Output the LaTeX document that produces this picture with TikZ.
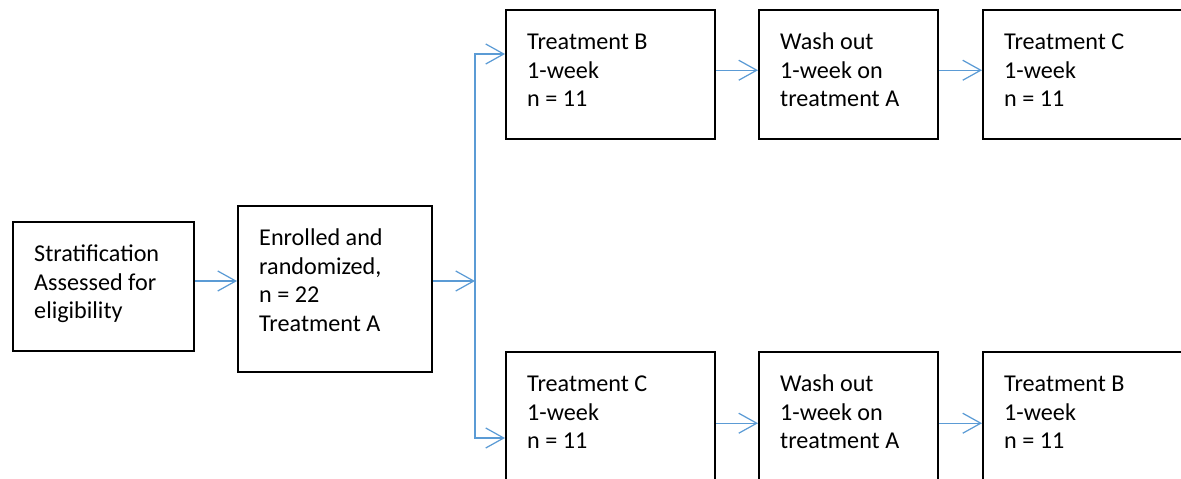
\documentclass[tikz,border=0pt]{standalone}
\usepackage{fontspec}
\setmainfont{Carlito}
\usetikzlibrary{arrows.meta,calc}

\definecolor{flowblue}{HTML}{5B9BD5}
\newlength\pxu
\setlength\pxu{0.02cm}
% box of given width and height (in px), lines set from the top left
\newcommand\stagetext[3]{\parbox[c][#2\pxu][t]{#1\pxu}{\vspace*{10\pxu}\hbox{}\raggedright\leftskip=21\pxu #3}}

\begin{document}
\begin{tikzpicture}[x=0.02cm, y=-0.02cm,
  font=\fontsize{13.75}{16.44}\selectfont,
  stage/.style={draw, line width=1.4pt, anchor=north west, inner sep=0pt},
  flow/.style={draw=flowblue, line width=0.7pt, -{Straight Barb[length=0.36cm, width=0.4cm]}}]

\useasboundingbox (0,0) rectangle (1181,478);
\clip (0,0) rectangle (1181,478);

\node[stage] (strat) at (12,221) {\stagetext{181}{129}{Stratification\\Assessed for\\eligibility}};
\node[stage] (enrol) at (237,205) {\stagetext{194}{166}{Enrolled and\\randomized,\\n = 22\\Treatment A}};

\node[stage] (upB)    at (505,9) {\stagetext{209}{129}{Treatment B\\1-week\\n = 11}};
\node[stage] (upwash) at (758,9) {\stagetext{179}{129}{Wash out\\1-week on\\treatment A}};
\node[stage] (upC)    at (982,9) {\stagetext{230}{129}{Treatment C\\1-week\\n = 11}};

\node[stage] (lowC)    at (505,351) {\stagetext{209}{129}{Treatment C\\1-week\\n = 11}};
\node[stage] (lowwash) at (758,351) {\stagetext{179}{129}{Wash out\\1-week on\\treatment A}};
\node[stage] (lowB)    at (982,351) {\stagetext{230}{129}{Treatment B\\1-week\\n = 11}};

\coordinate (fork) at (475,281);
\coordinate (forkup) at (475,54);
\coordinate (forkdown) at (475,438);

\draw[flow] (strat.east |- fork) -- (enrol.west |- fork);
\draw[flow] (enrol.east |- fork) -- (fork);
\draw[flow] (fork) |- (upB.west |- forkup);
\draw[flow] (fork) |- (lowC.west |- forkdown);

\draw[flow] ([yshift=0.09cm]upB.east) -- ([yshift=0.09cm]upwash.west);
\draw[flow] ([yshift=0.09cm]upwash.east) -- ([yshift=0.09cm]upC.west);

\draw[flow] ([yshift=-0.13cm]lowC.east) -- ([yshift=-0.13cm]lowwash.west);
\draw[flow] ([yshift=-0.13cm]lowwash.east) -- ([yshift=-0.13cm]lowB.west);

\end{tikzpicture}
\end{document}
